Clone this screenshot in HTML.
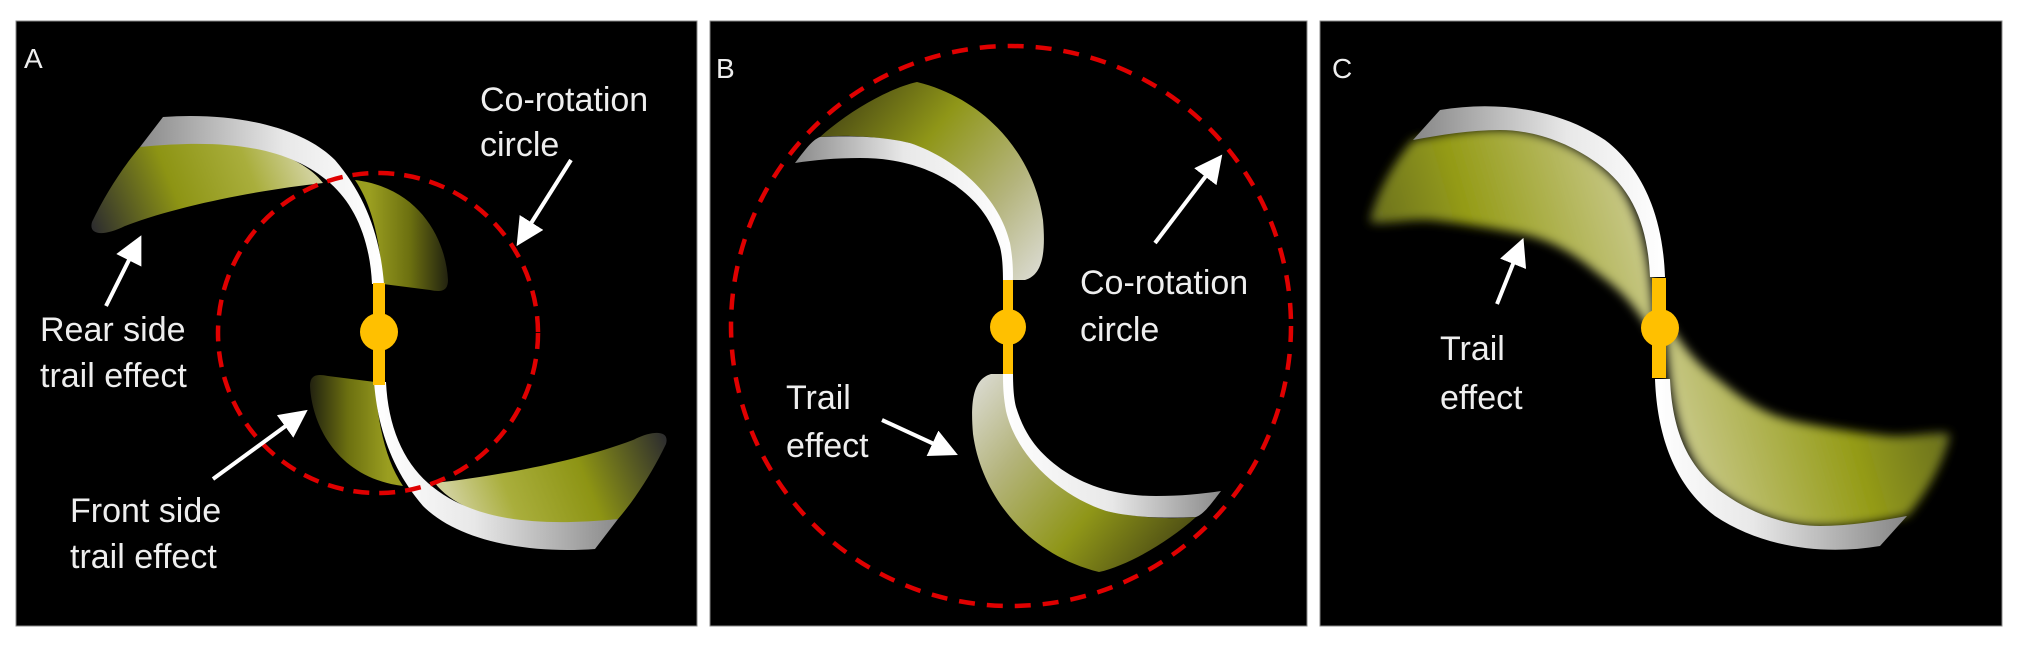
<!DOCTYPE html>
<html><head><meta charset="utf-8"><style>
html,body{margin:0;padding:0;background:#fff;}
svg{display:block;}
text{font-family:"Liberation Sans",sans-serif;fill:#eeeeee;}
</style></head><body>
<svg width="2020" height="645" viewBox="0 0 2020 645" xmlns="http://www.w3.org/2000/svg">
<defs>
  <linearGradient id="wA" x1="140" y1="0" x2="380" y2="0" gradientUnits="userSpaceOnUse">
    <stop offset="0" stop-color="#8a8a8a"/><stop offset="0.6" stop-color="#e8e8e8"/><stop offset="1" stop-color="#ffffff"/>
  </linearGradient>
  <linearGradient id="rearA" x1="95" y1="232" x2="300" y2="150" gradientUnits="userSpaceOnUse">
    <stop offset="0" stop-color="#2e2e2e"/><stop offset="0.4" stop-color="#8d9414"/><stop offset="0.75" stop-color="#a9ae3c"/><stop offset="1" stop-color="#d0d09a"/>
  </linearGradient>
  <linearGradient id="frontA" x1="370" y1="0" x2="450" y2="0" gradientUnits="userSpaceOnUse">
    <stop offset="0" stop-color="#9a9e20"/><stop offset="0.5" stop-color="#6c7010"/><stop offset="1" stop-color="#1e1e10"/>
  </linearGradient>
  <linearGradient id="wB" x1="795" y1="0" x2="1013" y2="0" gradientUnits="userSpaceOnUse">
    <stop offset="0" stop-color="#8a8a8a"/><stop offset="0.5" stop-color="#e8e8e8"/><stop offset="1" stop-color="#ffffff"/>
  </linearGradient>
  <linearGradient id="yB" x1="830" y1="110" x2="1040" y2="280" gradientUnits="userSpaceOnUse">
    <stop offset="0" stop-color="#4a4a14"/><stop offset="0.35" stop-color="#8f9618"/><stop offset="0.7" stop-color="#b4b47c"/><stop offset="1" stop-color="#dcdcd4"/>
  </linearGradient>
  <linearGradient id="wC" x1="1420" y1="0" x2="1665" y2="0" gradientUnits="userSpaceOnUse">
    <stop offset="0" stop-color="#8a8a8a"/><stop offset="0.6" stop-color="#e8e8e8"/><stop offset="1" stop-color="#ffffff"/>
  </linearGradient>
  <linearGradient id="yC" x1="1380" y1="220" x2="1620" y2="150" gradientUnits="userSpaceOnUse">
    <stop offset="0" stop-color="#6e7420"/><stop offset="0.35" stop-color="#959c18"/><stop offset="1" stop-color="#c8c888"/>
  </linearGradient>
  <filter id="bl" x="-20%" y="-20%" width="140%" height="140%"><feGaussianBlur stdDeviation="5"/></filter>
  <marker id="ah" markerWidth="7" markerHeight="7" refX="4" refY="3.5" orient="auto" markerUnits="strokeWidth">
    <path d="M0,0 L7,3.5 L0,7 Z" fill="#fff"/>
  </marker>
</defs>

<rect x="16" y="21" width="681" height="605" fill="#000" stroke="#888" stroke-width="1"/>
<rect x="710" y="21" width="597" height="605" fill="#000" stroke="#888" stroke-width="1"/>
<rect x="1320" y="21" width="682" height="605" fill="#000" stroke="#888" stroke-width="1"/>

<!-- Panel A -->
<g id="bladeA">
  <path d="M140,147 C180,140 220,138 230,140 C280,150 310,165 323,183 C260,190 180,205 125,226 C105,236 88,236 92,222 C105,195 122,168 140,147 Z" fill="url(#rearA)"/>
  <path d="M355,180 C420,188 446,240 448,280 C448,292 440,292 430,290 L383,284 C380,240 372,205 355,180 Z" fill="url(#frontA)"/>
  <path d="M163,117 C230,112 300,125 335,160 C365,195 380,235 384,284 L372,284 C370,240 355,205 330,183 C290,148 230,138 140,147 Z" fill="url(#wA)"/>
</g>
<use href="#bladeA" transform="rotate(180 379 333)"/>
<rect x="373" y="283" width="12" height="102" fill="#ffc000"/>
<circle cx="379" cy="332" r="19" fill="#ffc000"/>
<circle cx="378" cy="333" r="160" fill="none" stroke="#e00000" stroke-width="4.5" stroke-dasharray="16 10"/>

<text x="24" y="68" font-size="28">A</text>
<text x="480" y="111" font-size="34">Co-rotation</text>
<text x="480" y="156" font-size="34">circle</text>
<line x1="571" y1="160" x2="523" y2="236" stroke="#fff" stroke-width="4" marker-end="url(#ah)"/>
<text x="40" y="341" font-size="34">Rear side</text>
<text x="40" y="387" font-size="34">trail effect</text>
<line x1="106" y1="306" x2="136" y2="246" stroke="#fff" stroke-width="4" marker-end="url(#ah)"/>
<text x="70" y="522" font-size="34">Front side</text>
<text x="70" y="568" font-size="34">trail effect</text>
<line x1="213" y1="479" x2="298" y2="417" stroke="#fff" stroke-width="4" marker-end="url(#ah)"/>

<!-- Panel B -->
<g id="bladeB">
  <path d="M820,137 C850,110 890,88 917,82 C990,100 1035,160 1043,220 C1046,255 1042,275 1025,280 L1013,280 C1005,220 980,170 910,143 C870,135 840,135 820,137 Z" fill="url(#yB)"/>
  <path d="M795,163 C805,150 812,140 820,137 C860,135 890,138 910,143 C960,160 1000,200 1010,243 C1013,260 1013,270 1013,282 L1003,282 C1003,265 1002,255 1000,247 C990,215 975,200 955,185 C930,168 900,158 860,158 C835,158 815,160 795,163 Z" fill="url(#wB)"/>
</g>
<use href="#bladeB" transform="rotate(180 1008 327)"/>
<rect x="1003" y="280" width="10" height="94" fill="#ffc000"/>
<circle cx="1008" cy="327" r="18" fill="#ffc000"/>
<circle cx="1011" cy="326" r="280" fill="none" stroke="#e00000" stroke-width="4.5" stroke-dasharray="16 12"/>

<text x="716" y="78" font-size="28">B</text>
<text x="1080" y="294" font-size="34">Co-rotation</text>
<text x="1080" y="341" font-size="34">circle</text>
<line x1="1155" y1="243" x2="1215" y2="164" stroke="#fff" stroke-width="4" marker-end="url(#ah)"/>
<text x="786" y="409" font-size="34">Trail</text>
<text x="786" y="457" font-size="34">effect</text>
<line x1="882" y1="420" x2="947" y2="450" stroke="#fff" stroke-width="4" marker-end="url(#ah)"/>

<!-- Panel C -->
<g id="bladeC">
  <path d="M1413,140 C1450,132 1480,128 1513,130 C1560,135 1600,160 1620,185 C1640,215 1650,250 1655,330 L1650,330 C1630,300 1620,290 1597,273 C1570,250 1545,238 1517,233 C1480,226 1450,222 1430,220 C1405,219 1385,225 1370,222 C1375,195 1395,160 1413,140 Z" fill="url(#yC)" filter="url(#bl)"/>
  <path d="M1440,110 C1500,100 1560,110 1605,140 C1645,170 1663,220 1665,277 L1650,277 C1648,230 1635,190 1597,163 C1565,140 1530,130 1500,130 C1470,130 1440,135 1413,140 Z" fill="url(#wC)"/>
</g>
<use href="#bladeC" transform="rotate(180 1660 328)"/>
<rect x="1652" y="278" width="14" height="100" fill="#ffc000"/>
<circle cx="1660" cy="328" r="19" fill="#ffc000"/>

<text x="1332" y="78" font-size="28">C</text>
<text x="1440" y="360" font-size="34">Trail</text>
<text x="1440" y="409" font-size="34">effect</text>
<line x1="1497" y1="304" x2="1519" y2="249" stroke="#fff" stroke-width="4" marker-end="url(#ah)"/>
</svg>
</body></html>
